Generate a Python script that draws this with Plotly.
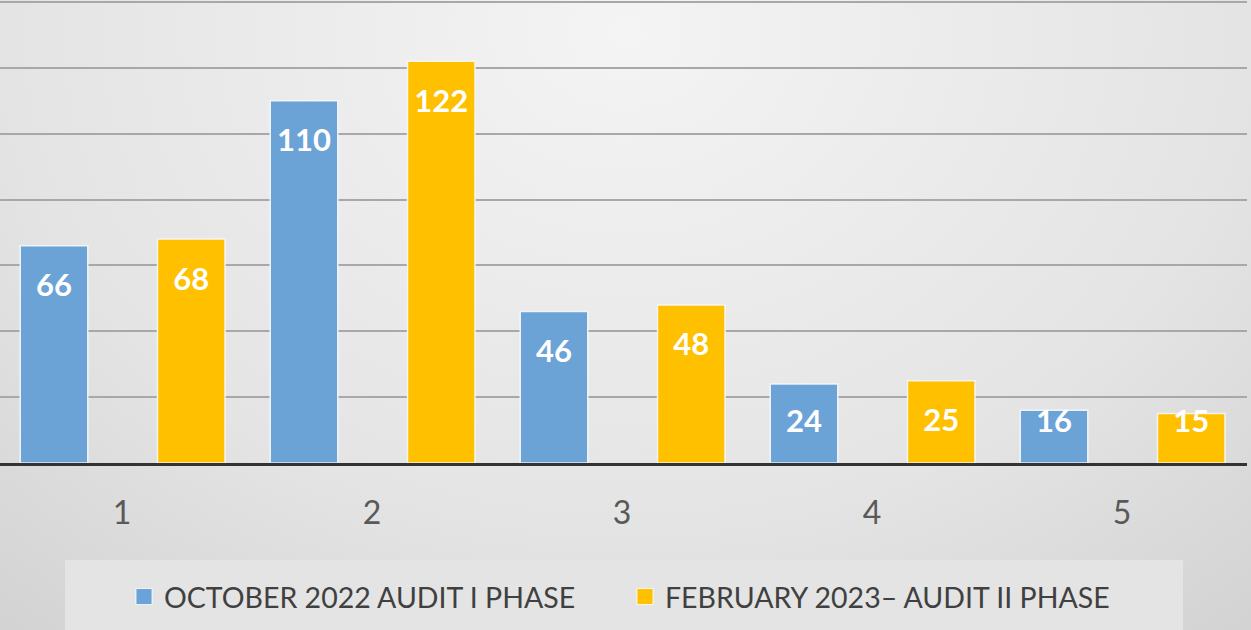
import base64
import plotly.graph_objects as go

categories = [1, 2, 3, 4, 5]
oct_2022 = [66, 110, 46, 24, 16]
feb_2023 = [68, 122, 48, 25, 15]
series_names = ["OCTOBER 2022 AUDIT I PHASE", "FEBRUARY 2023– AUDIT II PHASE"]
colors = ["#6BA3D7", "#FFC000"]

BAR_W = 0.27
OFFSETS = [-0.272, 0.277]   # bar centres relative to category
LABEL_DROP = 13.0           # label centre below bar top (data units)
LABEL_MIN = 11.8            # lowest label centre (data units)

W, H = 1251, 630
ML, MR, MT, MB = 0, 4, 0, 167
PW, PH = W - ML - MR, H - MT - MB

svg = f'''<svg xmlns="http://www.w3.org/2000/svg" width="{W}" height="{H}" preserveAspectRatio="none">
<defs><radialGradient id="g" cx="0.5" cy="0.05" r="0.9" gradientTransform="translate(0.5 0.05) scale(1 1.6) translate(-0.5 -0.05)">
<stop offset="0" stop-color="#f4f4f4"/><stop offset="0.55" stop-color="#e4e4e4"/><stop offset="1" stop-color="#cbcbcb"/>
</radialGradient></defs><rect width="{W}" height="{H}" fill="url(#g)"/></svg>'''
src = "data:image/svg+xml;base64," + base64.b64encode(svg.encode()).decode()

fig = go.Figure()
for vals, name, col, off in zip([oct_2022, feb_2023], series_names, colors, OFFSETS):
    fig.add_trace(go.Bar(
        x=categories, y=vals, name=name, width=BAR_W, offset=off - BAR_W / 2,
        marker=dict(color=col, line=dict(color="rgba(245,248,252,0.9)", width=1.5)),
        hoverinfo="skip", showlegend=False, legendgroup=name,
    ))
    # legend entry with a larger square swatch
    fig.add_trace(go.Scatter(
        x=[None], y=[None], mode="markers", name=name, legendgroup=name,
        marker=dict(symbol="square", size=17, color=col, line=dict(color="rgba(255,255,255,0.8)", width=1)),
    ))
for vals, off in zip([oct_2022, feb_2023], OFFSETS):
    fig.add_trace(go.Scatter(
        x=[c + off for c in categories],
        y=[max(v - LABEL_DROP, LABEL_MIN) for v in vals],
        text=[str(v) for v in vals], mode="text", showlegend=False,
        textfont=dict(family="Lato", size=31, color="white", weight="bold"),
        hoverinfo="skip",
    ))

fig.update_layout(
    width=W, height=H,
    margin=dict(l=ML, r=MR, t=MT, b=MB),
    paper_bgcolor="#d6d6d6",
    plot_bgcolor="rgba(0,0,0,0)",
    barmode="overlay",
    showlegend=True,
    legend=dict(
        orientation="h", x=124 / PW, xanchor="left", y=(463 - 597) / PH, yanchor="middle",
        bgcolor="rgba(0,0,0,0)", font=dict(family="Lato", size=28.5, color="#404040"),
        itemwidth=30, entrywidth=456,
    ),
    images=[dict(source=src, xref="paper", yref="paper", x=-ML / PW, y=1 + MT / PH,
                 sizex=W / PW, sizey=H / PH, sizing="stretch", layer="below",
                 xanchor="left", yanchor="top")],
    shapes=[dict(type="rect", xref="paper", yref="paper", x0=65 / PW, x1=1183 / PW,
                 y0=-(MB + 5) / PH, y1=(463 - 560) / PH,
                 fillcolor="#e4e4e4", line=dict(width=0), layer="below")],
)
fig.update_xaxes(
    range=[0.512, 5.5], tickvals=categories, ticktext=[str(c) for c in categories],
    showgrid=False, zeroline=False, showline=True, linecolor="#333333", linewidth=3,
    ticks="", ticklabelstandoff=20,
    tickfont=dict(family="Lato", size=32, color="#595959"),
)
fig.update_yaxes(
    range=[0, 140.6], tickvals=[20, 40, 60, 80, 100, 120, 140], showticklabels=False, showgrid=True,
    gridcolor="#a8a8a8", gridwidth=2, zeroline=False,
)
fig.write_html("out.html", config={"displayModeBar": False},
               post_script="document.body.style.margin='0';")
